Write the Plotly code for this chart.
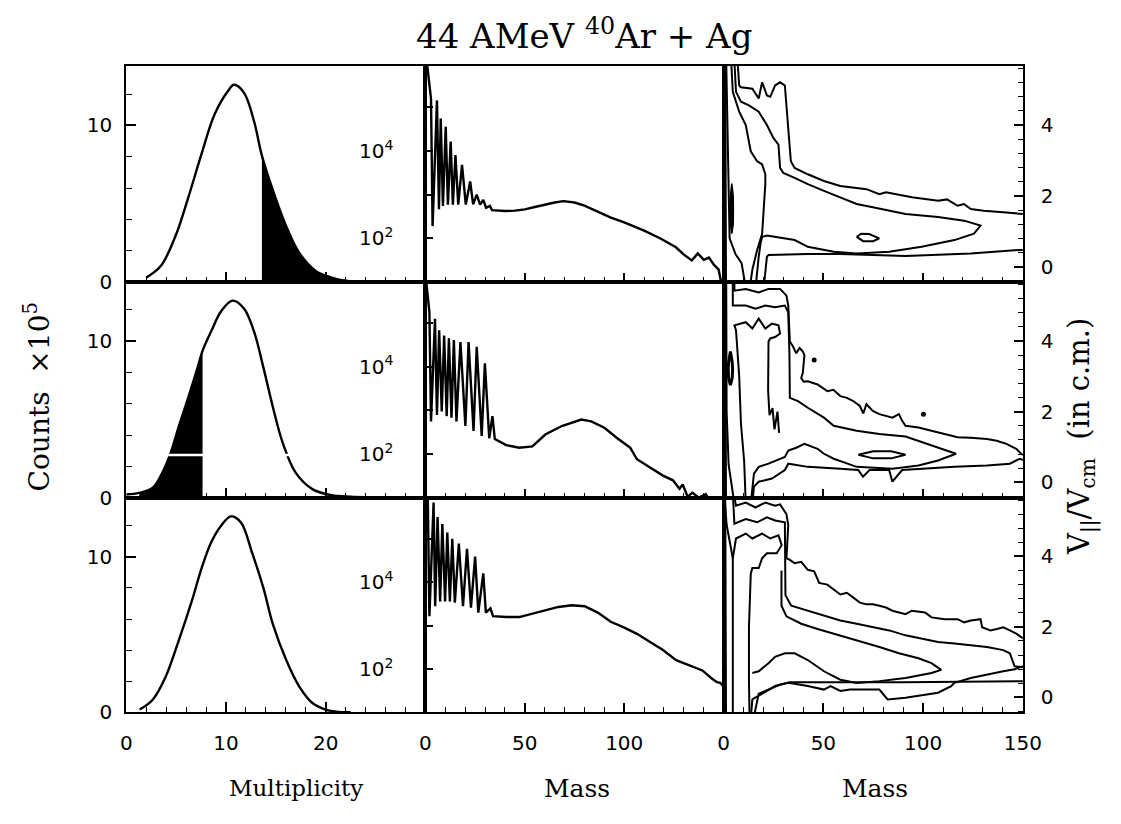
import plotly.graph_objects as go
from plotly.subplots import make_subplots

# ---------------- DATA ----------------
# Left column: multiplicity distributions (counts x 1e5)
mult_top = [2.0, 3.46, 4.93, 6.24, 7.55, 8.85, 10.2, 10.8, 11.8, 12.8, 13.6, 14.7, 16.05, 17.35, 19.0, 20.6, 21.6, 23.0]
cnt_mult_top = [0.27, 1.01, 2.91, 5.44, 8.18, 10.7, 12.2, 12.6, 12.1, 10.3, 8.08, 5.87, 3.54, 1.85, 0.70, 0.27, 0.10, 0.02]
shade_from_top = 13.6

mult_mid = [0.0, 1.3, 2.65, 3.6, 4.44, 5.26, 6.24, 7.06, 7.65, 8.53, 9.51, 10.65, 11.8, 12.8, 13.75, 14.7, 15.7, 17.0, 18.7, 20.6, 22.5, 24.0]
cnt_mult_mid = [0.2, 0.3, 0.63, 1.58, 2.85, 4.54, 6.44, 8.12, 9.39, 10.65, 11.92, 12.6, 12.1, 10.65, 8.33, 5.8, 3.48, 1.58, 0.53, 0.15, 0.06, 0.03]
shade_to_mid = 7.65

mult_bot = [1.34, 2.65, 3.95, 5.26, 6.57, 7.55, 8.53, 9.51, 10.5, 11.5, 12.6, 13.75, 14.7, 16.05, 17.35, 18.66, 20.0, 21.3, 22.5]
cnt_mult_bot = [0.19, 0.82, 2.3, 4.62, 7.15, 9.26, 10.95, 12.0, 12.6, 12.2, 10.3, 8.0, 5.67, 3.35, 1.66, 0.61, 0.19, 0.04, 0.01]

# Middle column: mass distributions
mass_top = [0.3, 2.8, 3.6, 5.8, 6.8, 7.7, 8.8, 10.2, 11.3, 12.7, 13.8, 15.1, 16.5, 18.4, 20.3, 22.5, 24.0, 25.8, 27.5, 29.1,
            30.5, 32.4, 33.5, 36, 40, 45, 50, 55, 60, 65, 69.4, 75, 80, 85, 93, 100, 110, 118, 126, 130,
            134, 137, 140, 142.6, 145, 147.5, 149, 150]
cnt_top = [1.6e6, 1.6e5, 190, 1.45e5, 460, 5.6e4, 550, 3.6e4, 590, 1.66e4, 590, 8100, 590, 4800, 590, 2000, 600, 1000, 590, 760,
           500, 550, 440, 430, 420, 430, 460, 520, 590, 660, 710, 660, 560, 440, 300, 230, 150, 100, 62, 42,
           31, 45, 32, 36, 25, 19, 10, 5]

mass_mid = [0.3, 2.0, 2.8, 4.8, 5.8, 6.9, 8.2, 9.4, 10.7, 11.8, 13.1, 14.3, 15.6, 17.6, 20.1, 21.7, 24.2, 25.8, 28.3, 29.9,
            32.1, 33.7, 34.9, 40.6, 47.2, 53.8, 60.3, 68.6, 78.4, 83.4, 90, 96.5, 103, 106.4, 113, 119.5, 124.5, 127.8, 129.4, 131.9,
            134.3, 137.6, 141, 143.4, 146]
cnt_mid = [1e6, 1.8e5, 560, 1.26e5, 790, 6.9e4, 950, 5.2e4, 740, 4.5e4, 680, 4.1e4, 560, 3.7e4, 440, 3.7e4, 340, 2.9e4, 260, 1.2e4,
           230, 740, 220, 160, 140, 150, 280, 440, 620, 560, 400, 230, 140, 76, 49, 32, 25, 16, 20, 10.5,
           13, 10, 12, 8, 5]

mass_bot = [0.5, 1.2, 2.0, 4.1, 4.9, 6.1, 7.4, 8.5, 9.9, 11.0, 12.3, 13.5, 14.8, 16.8, 18.9, 20.9, 22.9, 25.0, 26.6, 29.1,
            30.4, 32.7, 34.0, 40.6, 47.2, 53.8, 60.3, 66.9, 73.5, 80.1, 86.7, 93.2, 99.8, 106.4, 113, 119.5, 126.1, 131.1, 134.3, 139.3,
            144.2, 146.7, 148.3, 150]
cnt_bot = [1.26e6, 7.9e5, 1660, 6.9e5, 2800, 3.2e5, 3600, 2.2e5, 3600, 1.4e5, 3600, 1.0e5, 3400, 7.8e4, 2800, 5.9e4, 2600, 3.9e4, 2000, 1.6e4,
           2000, 2500, 1660, 1580, 1580, 1900, 2200, 2700, 2950, 2800, 2000, 1230, 910, 650, 420, 275, 160, 130, 112, 93,
           60, 50, 48, 40]

# Right column: contour lines of V||/Vcm versus mass
# Row 1
r1a_m = [7.0, 7.8, 8.7, 14.4, 17.6, 19.3, 21.7, 23.4, 25.8, 28.3, 30.7, 32.4, 33.7, 35.6, 42.2, 50.3, 58.5, 71.6, 78.1, 81.4,
         86.3, 94.4, 107.5, 112.0, 117.3, 120.5, 123.9, 130.4, 140.2, 148.4, 151]
r1a_v = [5.8, 5.12, 5.07, 5.03, 4.75, 5.21, 4.84, 4.80, 5.12, 5.21, 5.12, 4.0, 2.98, 2.79, 2.61, 2.42, 2.28, 2.19, 2.05, 2.10,
         2.05, 1.96, 1.86, 1.90, 1.72, 1.77, 1.63, 1.58, 1.54, 1.49, 1.48]
r1a_low_m = [151, 148.4, 123.9, 107.5, 91.2, 74.8, 58.5, 42.2, 22.5, 21.7, 20.9, 20.1]
r1a_low_v = [0.47, 0.47, 0.37, 0.33, 0.30, 0.33, 0.36, 0.36, 0.33, 0.28, -0.19, -0.6]
r1b_m = [5.4, 6.2, 8.7, 12.7, 17.6, 21.7, 25.0, 27.5, 28.3, 29.9, 35.6, 42.2, 50.3, 58.5, 66.7, 74.8, 83.0, 91.2, 107.5, 120.6,
         128.8, 125.5, 115.7, 99.3, 83.0, 66.7, 55.2, 42.2, 35.6, 25.8, 21.7, 19.3, 18.5, 17.6, 16.8, 16.0]
r1b_v = [5.8, 4.94, 4.66, 4.56, 4.38, 4.0, 3.63, 3.45, 2.79, 2.65, 2.51, 2.33, 2.14, 1.96, 1.77, 1.68, 1.58, 1.49, 1.40, 1.30,
         1.16, 0.93, 0.75, 0.56, 0.42, 0.37, 0.42, 0.56, 0.75, 0.84, 0.88, 0.84, 0.65, 0.28, -0.09, -0.6]
r1c_m = [3.8, 4.6, 7.8, 11.1, 13.6, 16.8, 19.3, 20.9, 20.9, 20.1, 19.3, 16.8, 14.4, 13.1]
r1c_v = [5.8, 4.94, 4.38, 4.0, 3.26, 2.98, 2.89, 2.61, 2.33, 1.49, 0.93, 0.47, -0.09, -0.6]
r1d_m = [1.3, 1.8, 2.4, 3.0, 6.0, 9.0, 11.1]
r1d_v = [5.8, 4.0, 2.0, 0.8, 0.35, 0.1, -0.6]
r1_blob_m = [4.1, 4.8, 4.9, 4.8, 4.1, 3.4, 3.3, 3.4, 4.1]
r1_blob_v = [2.35, 2.0, 1.63, 1.2, 0.93, 1.2, 1.63, 2.0, 2.35]
r1_peak_m = [66.7, 69, 73, 78, 75, 70, 66.7]
r1_peak_v = [0.84, 0.93, 0.92, 0.80, 0.72, 0.72, 0.84]

# Row 2
r2a_m = [5.4, 5.4, 11.1, 17.6, 22.5, 28.3, 31.5, 32.4, 33.2, 34.8, 36.4, 38.1, 39.7, 40.5, 39.7, 38.9, 40.1, 42.2, 47.1, 52.0,
         55.0, 58.5, 61.8, 65.0, 68.3, 70.0, 71.6, 74.8, 78.1, 81.4, 84.6, 87.9, 89.5, 91.2, 97.7, 104.2, 110.8, 117.3, 123.9, 132.0,
         136.9, 141.8, 146.7, 149.2, 151]
r2a_v = [5.8, 5.42, 5.47, 5.37, 5.47, 5.47, 5.28, 5.0, 3.98, 3.84, 3.65, 3.80, 3.70, 3.60, 3.10, 2.95, 2.85, 2.86, 2.77, 2.58,
         2.62, 2.44, 2.39, 2.30, 2.16, 1.95, 2.21, 2.02, 1.93, 1.88, 1.83, 1.93, 1.74, 1.60, 1.55, 1.46, 1.37, 1.28, 1.26, 1.23,
         1.18, 1.09, 0.95, 0.81, 0.75]
r2a_low_m = [151, 148.4, 143.5, 132.0, 115.7, 97.7, 89.5, 84.6, 83.0, 73.2, 69.9, 67.5, 58.5, 42.2, 32.4, 30.7, 24.2, 17.6, 15.2, 14.4]
r2a_low_v = [0.62, 0.67, 0.53, 0.48, 0.44, 0.39, 0.35, 0.02, 0.35, 0.35, 0.16, 0.35, 0.39, 0.44, 0.53, 0.35, 0.11, 0.02, -0.12, -0.6]
r2b_m = [4.6, 4.6, 11.1, 16.0, 20.9, 25.8, 30.7, 32.4, 33.0, 33.2, 37.3, 42.2, 50.3, 55.2, 66.7, 78.1, 91.2, 99.3, 107.5, 116.5,
         107.5, 97.7, 84.6, 66.7, 55.2, 50.3, 47.1, 40.5, 36.4, 32.4, 30.7, 26.6, 22.5, 17.6, 15.2, 13.6]
r2b_v = [5.8, 5.0, 5.0, 4.91, 5.0, 4.95, 5.0, 4.81, 3.6, 2.39, 2.30, 2.11, 1.83, 1.60, 1.46, 1.37, 1.30, 1.14, 0.98, 0.81,
         0.62, 0.48, 0.39, 0.44, 0.67, 0.81, 0.95, 1.09, 0.98, 0.90, 0.72, 0.62, 0.53, 0.44, 0.25, -0.6]
r2c_m = [11.1, 10.3, 8.7, 7.8, 6.2, 5.4, 11.1, 14.4, 17.6, 20.9, 24.2, 27.5, 28.3, 25.8, 23.4, 22.5, 22.3, 23.0, 24.5, 25.5, 27.0, 27.8]
r2c_v = [-0.6, 0.6, 1.65, 3.0, 4.3, 4.44, 4.53, 4.35, 4.63, 4.35, 4.49, 4.44, 4.21, 4.11, 4.07, 3.98, 2.6, 1.9, 2.1, 1.5, 2.0, 1.4]
r2d_m = [1.3, 1.5, 2.5, 5.4]
r2d_v = [5.8, 2.0, 0.5, -0.6]
r2_ring_m = [3.4, 4.3, 4.5, 4.3, 3.4, 2.5, 2.3, 2.5, 3.4]
r2_ring_v = [3.7, 3.4, 3.2, 2.95, 2.75, 2.95, 3.2, 3.4, 3.7]
r2_lens_m = [67.5, 75, 84, 91.2, 84, 75, 67.5]
r2_lens_v = [0.78, 0.88, 0.88, 0.78, 0.68, 0.68, 0.78]
r2_dot_m = [45.4, 100.2]
r2_dot_v = [3.46, 1.93]

# Row 3
r3a_m = [5.0, 6.2, 11.1, 16.0, 20.9, 25.8, 28.3, 31.5, 32.4, 31.5, 33.2, 35.6, 38.9, 42.2, 45.4, 47.9, 52.0, 55.2, 58.5, 61.8,
         65.0, 68.3, 71.6, 74.8, 78.1, 81.4, 84.6, 91.2, 94.4, 101.0, 104.2, 110.8, 117.3, 120.6, 123.9, 128.8, 129.6, 133.7, 137.0, 140.2,
         143.5, 146.7, 149.2, 151]
r3a_v = [5.8, 5.44, 5.53, 5.39, 5.53, 5.44, 5.48, 5.20, 4.88, 3.95, 3.90, 3.81, 3.85, 3.62, 3.58, 3.25, 3.20, 3.06, 2.92, 2.97,
         2.83, 2.69, 2.64, 2.64, 2.60, 2.55, 2.46, 2.36, 2.46, 2.41, 2.27, 2.22, 2.22, 2.13, 2.18, 2.22, 1.99, 1.90, 1.94, 1.99,
         1.90, 1.81, 1.71, 1.65]
r3a_low_m = [151, 145.9, 140.2, 132.0, 123.9, 115.7, 114.1, 107.5, 91.2, 82.2, 78.1, 63.4, 58.5, 53.6, 50.3, 42.2, 32.4, 25.8, 17.6, 14.4, 13.6]
r3a_low_v = [0.90, 0.80, 0.74, 0.64, 0.55, 0.41, 0.32, 0.13, -0.01, -0.06, 0.22, 0.22, 0.18, 0.32, 0.22, 0.32, 0.41, 0.32, 0.04, -0.06, -0.6]
r3b_m = [4.6, 5.4, 11.1, 16.8, 21.7, 25.8, 30.7, 31.0, 31.0, 33.9, 42.2, 50.3, 58.5, 66.7, 74.8, 83.0, 91.2, 99.3, 107.5, 115.7,
         123.9, 132.0, 140.2, 143.5, 145.9, 151]
r3b_v = [5.8, 4.93, 5.06, 4.97, 5.11, 5.02, 4.97, 4.0, 2.9, 2.60, 2.46, 2.32, 2.18, 2.09, 1.99, 1.90, 1.76, 1.67, 1.57, 1.53,
         1.48, 1.43, 1.34, 1.25, 0.88, 0.85]
r3b_low_m = [151, 120, 90, 60, 33.2, 28.3, 21.7, 17.6, 15.0]
r3b_low_v = [0.46, 0.44, 0.43, 0.43, 0.43, 0.36, 0.20, 0.10, -0.6]
r3c_m = [4.6, 4.6, 4.6, 6.2, 11.1, 14.4, 19.3, 23.4, 27.5, 29.1, 26.6, 21.7, 19.3, 17.6, 14.4, 13.6, 12.7, 12.7, 13.0]
r3c_v = [-0.6, 1.0, 3.95, 4.51, 4.65, 4.51, 4.65, 4.51, 4.60, 4.32, 4.09, 4.09, 3.95, 3.67, 3.67, 3.5, 2.0, 0.5, -0.6]
r3d_m = [29.0, 29.0, 31.5, 38.9, 47.1, 55.2, 66.7, 78.1, 87.9, 97.7, 104.2, 109.1, 104.2, 91.2, 78.1, 66.7, 58.5, 50.3, 42.2, 35.6,
         30.7, 25.8, 22.5, 17.6, 14.4]
r3d_v = [3.6, 2.6, 2.3, 2.09, 1.94, 1.81, 1.62, 1.43, 1.25, 1.11, 0.97, 0.78, 0.69, 0.55, 0.46, 0.41, 0.50, 0.74, 1.06, 1.25,
         1.25, 1.15, 0.97, 0.74, 0.69]
r3e_m = [0.3, 1.5, 4.6]
r3e_v = [5.8, 4.9, 3.95]
edge_m = [0.8, 1.2]
edge_v = [5.8, -0.6]

# Tick values / labels
mult_ticks = [0, 10, 20]
mass_ticks_mid = [0, 50, 100]
mass_ticks_right = [0, 50, 100, 150]
count_ticks = [0, 10]
log_label_ticks = [100, 10000]
log_label_text = ["10<sup>2</sup>", "10<sup>4</sup>"]
log_plain_ticks = [10, 1000, 100000]
vel_ticks = [0, 2, 4]

# ---------------- LAYOUT GEOMETRY (pixels) ----------------
W, H = 1121, 824
col_px = [(123, 429), (429, 734), (734, 1040)]
row_px = [(67, 286), (286, 505), (505, 723)]

fig = make_subplots(rows=3, cols=3, horizontal_spacing=0, vertical_spacing=0)

BLK = "black"


def line(row, col, x, y, width=2.0, **kw):
    fig.add_trace(go.Scatter(x=x, y=y, mode="lines", line=dict(color=BLK, width=width), hoverinfo="skip", **kw),
                  row=row, col=col)


# Left column
mult_sets = [(mult_top, cnt_mult_top), (mult_mid, cnt_mult_mid), (mult_bot, cnt_mult_bot)]
for r, (mx, my) in enumerate(mult_sets, start=1):
    if r == 1:
        sx = [x for x in mx if x >= shade_from_top]
        sy = [y for x, y in zip(mx, my) if x >= shade_from_top]
    elif r == 2:
        sx = [x for x in mx if 0.5 <= x <= shade_to_mid]
        sy = [y for x, y in zip(mx, my) if 0.5 <= x <= shade_to_mid]
    else:
        sx, sy = [], []
    if sx:
        fig.add_trace(go.Scatter(x=sx, y=sy, mode="lines", fill="tozeroy", fillcolor=BLK,
                                 line=dict(color=BLK, width=1, shape="spline"), hoverinfo="skip"), row=r, col=1)
    fig.add_trace(go.Scatter(x=mx, y=my, mode="lines", line=dict(color=BLK, width=2.4, shape="spline"),
                             hoverinfo="skip"), row=r, col=1)

# Middle column
mass_sets = [(mass_top, cnt_top), (mass_mid, cnt_mid), (mass_bot, cnt_bot)]
for r, (mx, my) in enumerate(mass_sets, start=1):
    line(r, 2, mx, my, width=2.4)

# Right column
for m, v in [(r1a_m, r1a_v), (r1a_low_m, r1a_low_v), (r1b_m, r1b_v), (r1c_m, r1c_v), (r1d_m, r1d_v),
             (r1_peak_m, r1_peak_v), (edge_m, edge_v)]:
    line(1, 3, m, v)
fig.add_trace(go.Scatter(x=r1_blob_m, y=r1_blob_v, mode="lines", fill="toself", fillcolor=BLK,
                         line=dict(color=BLK, width=1.5), hoverinfo="skip"), row=1, col=3)

for m, v in [(r2a_m, r2a_v), (r2a_low_m, r2a_low_v), (r2b_m, r2b_v), (r2c_m, r2c_v), (r2d_m, r2d_v),
             (r2_lens_m, r2_lens_v), (edge_m, edge_v)]:
    line(2, 3, m, v)
line(2, 3, r2_ring_m, r2_ring_v, width=3)
fig.add_trace(go.Scatter(x=r2_dot_m, y=r2_dot_v, mode="markers", marker=dict(color=BLK, size=5),
                         hoverinfo="skip"), row=2, col=3)

for m, v in [(r3a_m, r3a_v), (r3a_low_m, r3a_low_v), (r3b_m, r3b_v), (r3b_low_m, r3b_low_v), (r3c_m, r3c_v),
             (r3d_m, r3d_v), (r3e_m, r3e_v), (edge_m, edge_v)]:
    line(3, 3, m, v)

# ---------------- AXES ----------------
tickfont = dict(family="DejaVu Sans, Arial, sans-serif", size=20, color=BLK)
common = dict(showline=True, linecolor=BLK, linewidth=2, mirror=True, ticks="inside", tickcolor=BLK,
              tickwidth=1.5, showgrid=False, zeroline=False, tickfont=tickfont)


def minor_lin(dtick, ln):
    return dict(tickmode="linear", tick0=0, dtick=dtick, ticklen=ln, ticks="inside", tickcolor=BLK, tickwidth=1.2)


for r in range(1, 4):
    y0, y1 = row_px[r - 1]
    ydom = [1 - y1 / H, 1 - y0 / H]
    for c in range(1, 4):
        x0, x1 = col_px[c - 1]
        xdom = [x0 / W, x1 / W]
        bottom = (r == 3)
        if c == 1:
            fig.update_xaxes(domain=xdom, range=[0, 30], tickmode="array", tickvals=mult_ticks,
                             ticklen=10, minor=minor_lin(2, 5),
                             showticklabels=bottom, ticklabelstandoff=12, row=r, col=c, **common)
            fig.update_yaxes(domain=ydom, range=[0, 13.8], tickmode="array", tickvals=count_ticks,
                             ticklen=10, minor=minor_lin(2, 6),
                             ticklabelstandoff=8, row=r, col=c, **common)
        elif c == 2:
            fig.update_xaxes(domain=xdom, range=[0, 150], tickmode="array", tickvals=mass_ticks_mid,
                             ticklen=9, minor=minor_lin(10, 5),
                             showticklabels=bottom, ticklabelstandoff=12, row=r, col=c, **common)
            fig.update_yaxes(domain=ydom, type="log", range=[1.0, 5.95], tickmode="array",
                             tickvals=log_label_ticks, ticktext=log_label_text,
                             minor=dict(tickmode="array", tickvals=log_plain_ticks, ticklen=8, ticks="inside",
                                        tickcolor=BLK, tickwidth=1.5),
                             ticklen=8, ticklabelstandoff=26, row=r, col=c, **common)
        else:
            fig.update_xaxes(domain=xdom, range=[0, 150], tickmode="array", tickvals=mass_ticks_right,
                             ticklen=9, minor=minor_lin(10, 5),
                             showticklabels=bottom, ticklabelstandoff=12, row=r, col=c, **common)
            fig.update_yaxes(domain=ydom, range=[-0.43, 5.67], side="right", tickmode="array", tickvals=vel_ticks,
                             ticklen=9, minor=minor_lin(0.4, 5),
                             ticklabelstandoff=12, row=r, col=c, **common)

# scan artefact: white streak across the shaded area of the middle-left panel
fig.add_shape(type="line", x0=4.2, x1=16.5, y0=2.72, y1=2.72, line=dict(color="white", width=2.5),
              xref="x4", yref="y4", layer="above")

# ---------------- TEXT ----------------
serif = "DejaVu Serif, Liberation Serif, serif"
ann = [
    dict(text="44 AMeV <sup>40</sup>Ar + Ag", x=591 / W, y=1 - 35 / H, size=34),
    dict(text="Multiplicity", x=297 / W, y=1 - 800 / H, size=23),
    dict(text="Mass", x=584 / W, y=1 - 800 / H, size=25),
    dict(text="Mass", x=889 / W, y=1 - 800 / H, size=25),
]
for a in ann:
    fig.add_annotation(text=a["text"], x=a["x"], y=a["y"], xref="paper", yref="paper", showarrow=False,
                       xanchor="center", yanchor="middle", font=dict(family=serif, size=a["size"], color=BLK))
fig.add_annotation(text="Counts  ×10<sup>5</sup>", x=32 / W, y=1 - 403 / H, xref="paper", yref="paper",
                   showarrow=False, textangle=-90, xanchor="center", yanchor="middle",
                   font=dict(family=serif, size=28, color=BLK))
fig.add_annotation(text="V<sub>||</sub>/V<sub>cm</sub>  (in c.m.)", x=1100 / W, y=1 - 443 / H, xref="paper",
                   yref="paper", showarrow=False, textangle=-90, xanchor="center", yanchor="middle",
                   font=dict(family=serif, size=29, color=BLK))

fig.update_layout(width=W, height=H, margin=dict(l=0, r=0, t=0, b=0), showlegend=False,
                  plot_bgcolor="white", paper_bgcolor="white")

fig.write_html("out.html")
